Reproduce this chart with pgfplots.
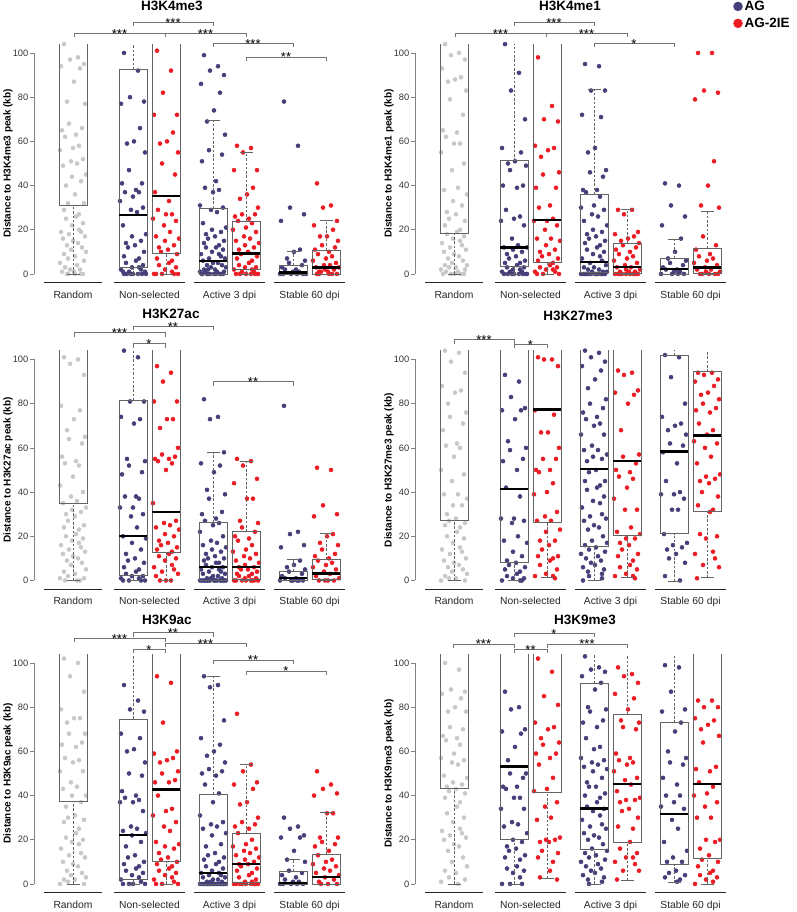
\documentclass[border=0pt]{standalone}
\usepackage{fontspec}
\setmainfont{Liberation Sans}
\usepackage{pgfplots}
\pgfplotsset{compat=1.18}
\usepgfplotslibrary{statistics}

\definecolor{agc}{RGB}{68,63,120}
\definecolor{iec}{RGB}{236,28,36}
\definecolor{rnd}{RGB}{200,200,200}
\definecolor{axc}{RGB}{130,130,130}
\definecolor{bxc}{RGB}{100,100,100}
\definecolor{brc}{RGB}{115,115,115}

\newcommand{\fs}[1]{\fontsize{#1}{#1}\selectfont}

\pgfplotsset{
  panel/.style={
    scale only axis, width=314pt, height=238.68pt, anchor=south west,
    xmin=34, xmax=348, ymin=-4, ymax=104,
    clip mode=individual,
    axis x line=none, axis y line*=left,
    y axis line style={-, draw=axc, line width=0.7pt, shorten <=8.84pt, shorten >=8.84pt},
    ytick={0,20,40,60,80,100},
    tick align=outside, major tick length=4pt,
    ytick style={draw=axc, line width=0.7pt},
    yticklabel style={font=\fs{9.3}, text=black!80, inner sep=1.5pt},
    /pgf/number format/assume math mode=true,
    ylabel style={at={(axis description cs:-0.083,0.5)}, anchor=center, font=\bfseries\fs{10}},
  },
  dotlegend/.style={only marks, mark=*, mark size=4.5pt, mark options={draw=none},
    legend image code/.code={\draw[mark repeat=2,mark phase=2,##1] plot coordinates {(0cm,0cm)(0.2cm,0cm)(0.4cm,0cm)};}},
  rbox/.style={draw=bxc, line width=0.75pt, solid,
    boxplot/every median/.style={black, line width=2.3pt}},
  boxplot/draw/lower whisker/.code={%
    \draw[dash pattern=on 2.5pt off 1.8pt]
      (boxplot box cs:\pgfplotsboxplotvalue{lower whisker},0.5) --
      (boxplot box cs:\pgfplotsboxplotvalue{lower quartile},0.5);
    \draw (boxplot whisker cs:\pgfplotsboxplotvalue{lower whisker},0) --
      (boxplot whisker cs:\pgfplotsboxplotvalue{lower whisker},1);
  },
  boxplot/draw/upper whisker/.code={%
    \draw[dash pattern=on 2.5pt off 1.8pt]
      (boxplot box cs:\pgfplotsboxplotvalue{upper quartile},0.5) --
      (boxplot box cs:\pgfplotsboxplotvalue{upper whisker},0.5);
    \draw (boxplot whisker cs:\pgfplotsboxplotvalue{upper whisker},0) --
      (boxplot whisker cs:\pgfplotsboxplotvalue{upper whisker},1);
  },
}
\tikzset{
  grp/.style={black!85, line width=1.3pt},
  cat/.style={anchor=base, yshift=-15.5pt, font=\fs{10.3}, text=black!85, inner sep=0pt},
  brk/.style={draw=brc, line width=0.7pt},
  star/.style={anchor=base, yshift=-5pt, font=\fs{13}, inner sep=0pt},
  ttl/.style={anchor=base, font=\bfseries\fs{13.5}, inner sep=0pt},
}

% box: position, lower whisker, lower quartile, median, upper quartile, upper whisker
\newcommand{\bx}[6]{\addplot[rbox, boxplot prepared={draw direction=y, draw position=#1,
  box extend=28, whisker extend=13,
  lower whisker=#2, lower quartile=#3, median=#4, upper quartile=#5, upper whisker=#6}] coordinates {};}
\newcommand{\pts}[2]{\addplot[only marks, mark=*, mark size=2.05pt, color=#1, mark options={draw=none}] coordinates {#2};}
\newcommand{\brk}[5]{%
  \draw[brk] ([yshift=-4pt]axis cs:#1,#3) -- (axis cs:#1,#3) -- (axis cs:#2,#3) -- ([yshift=-4pt]axis cs:#2,#3);
  \node[star] at (axis cs:#4,#3) {#5};}
\newcommand{\groups}{%
  \draw[grp] (axis cs:44,-4) -- (axis cs:102,-4);
  \draw[grp] (axis cs:114,-4) -- (axis cs:185,-4);
  \draw[grp] (axis cs:194,-4) -- (axis cs:265,-4);
  \draw[grp] (axis cs:274,-4) -- (axis cs:345,-4);
  \node[cat] at (axis cs:73,-4) {Random};
  \node[cat] at (axis cs:149.5,-4) {Non-selected};
  \node[cat] at (axis cs:229.5,-4) {Active 3 dpi};
  \node[cat] at (axis cs:309.5,-4) {Stable 60 dpi};}

\begin{document}
\begin{tikzpicture}
\useasboundingbox (0,0) rectangle (796pt,-912pt);

% ---------------- H3K4me3 ----------------
\begin{axis}[panel, at={(34pt,-282.8pt)}, ylabel={Distance to H3K4me3 peak (kb)}]
\pts{rnd}{(64,104)(78,98)(70,97)(84,95)(61,94)(80,93)(74,87)(67,78)(85,77)(69,68)(82,66)(62,65)(76,63)(65,62)(79,58)(73,57)(60,56)(83,52)(71,51)(77,50)(63,49)(86,45)(72,44)(81,42)(66,40)(75,36)(68,32)(84,32)(64,29)(79,27)(76,26)(66,25)(83,23)(72,22)(79,20)(61,19)(81,19)(69,18)(85,17)(63,16)(73,15)(78,14)(67,13)(82,12)(71,11)(86,10)(64,9)(75,8)(68,7)(84,6)(60,5)(77,4)(65,3)(80,2)(70,2)(74,1)(62,1)(83,0)(67,0)(81,0)(68,0)(75,0)}
\pts{agc}{(124,100)(138,92)(130,80)(144,78)(121,77)(140,66)(134,60)(127,59)(145,55)(129,47)(142,41)(122,41)(136,38)(125,37)(139,37)(133,35)(120,33)(143,30)(131,29)(137,28)(123,22)(146,18)(132,17)(141,15)(126,14)(135,13)(128,12)(144,10)(124,8)(139,7)(136,6)(126,5)(143,4)(132,3)(139,3)(121,2)(141,2)(129,1)(145,1)(123,1)(133,0)(138,0)(127,0)(142,0)(131,0)(146,0)(124,0)}
\pts{iec}{(157,101)(171,92)(163,82)(177,72)(154,72)(173,64)(167,60)(160,59)(178,55)(162,50)(175,45)(155,37)(169,33)(158,29)(172,27)(166,27)(153,25)(176,24)(164,22)(170,19)(156,17)(179,16)(165,15)(174,13)(159,12)(168,11)(161,10)(177,9)(157,7)(172,6)(169,5)(159,4)(176,3)(165,2)(172,1)(154,0)(174,0)(162,0)(178,0)(156,0)}
\pts{agc}{(204,99)(218,94)(210,92)(224,90)(201,86)(220,82)(214,74)(207,69)(225,63)(209,56)(222,54)(202,51)(216,42)(205,39)(219,38)(213,37)(200,31)(223,30)(211,29)(217,28)(203,23)(226,21)(212,20)(221,19)(206,18)(215,17)(208,16)(224,15)(204,14)(219,13)(216,12)(206,12)(223,11)(212,10)(219,9)(201,9)(221,8)(209,7)(225,7)(203,6)(213,5)(218,5)(207,4)(222,4)(211,3)(226,3)(204,2)(215,2)(208,2)(224,1)(200,1)(217,1)(205,1)(220,0)(210,0)(214,0)(202,0)(223,0)(207,0)(221,0)(208,0)(216,0)(202,0)}
\pts{iec}{(237,58)(251,57)(243,55)(257,47)(234,47)(253,39)(247,36)(240,34)(258,30)(242,27)(255,27)(235,26)(249,25)(238,24)(252,23)(246,21)(233,20)(256,19)(244,17)(250,16)(236,15)(259,14)(245,13)(254,12)(239,11)(248,10)(241,9)(257,8)(237,7)(252,6)(249,5)(239,4)(256,3)(245,3)(252,2)(234,2)(254,1)(242,1)(258,0)(236,0)(246,0)(251,0)(240,0)(255,0)}
\pts{agc}{(284,78)(298,58)(290,30)(304,27)(281,24)(300,11)(294,10)(287,7)(305,6)(289,5)(302,4)(282,3)(296,2)(285,2)(299,1)(293,1)(280,0)(303,0)(291,0)(297,0)(283,0)(306,0)}
\pts{iec}{(317,41)(331,31)(323,30)(337,24)(314,22)(333,20)(327,17)(320,17)(338,15)(322,13)(335,12)(315,11)(329,10)(318,9)(332,8)(326,7)(313,6)(336,5)(324,4)(330,4)(316,3)(339,3)(325,2)(334,2)(319,1)(328,1)(321,1)(337,0)(317,0)(332,0)(329,0)(319,0)}
\bx{73}{0}{31}{150}{200}{250}
\bx{133}{0}{3.0}{26.6}{92.6}{150}
\bx{166}{0}{9.4}{35.4}{150}{200}
\bx{213}{0}{0}{6.0}{29.8}{69.3}
\bx{246}{0}{2.1}{9.3}{24.0}{55.2}
\bx{293}{0}{0}{0.6}{3.8}{10.1}
\bx{326}{0}{0}{2.9}{10.8}{24.4}
\groups
\brk{74}{165}{109}{119.5}{***}
\brk{165}{246}{109}{205.5}{***}
\brk{133}{213}{114}{173}{***}
\brk{213}{293}{104.5}{253}{***}
\brk{246}{326}{98.2}{286}{**}
\node[ttl] at (axis cs:172,119.2) {H3K4me3};
\end{axis}

% ---------------- H3K4me1 ----------------
\begin{axis}[panel, at={(415pt,-282.8pt)}, ylabel={Distance to H3K4me1 peak (kb)},
  legend style={at={(axis description cs:1.0137,1.19)}, anchor=north west, draw=none, fill=none,
    font=\bfseries\fs{13.5}, inner sep=0pt, row sep=2pt, legend cell align=left}]
\addlegendimage{dotlegend, color=agc}
\addlegendimage{dotlegend, color=iec}
\pts{rnd}{(64,104)(78,100)(70,99)(84,97)(61,93)(80,89)(74,88)(67,87)(85,83)(69,79)(82,72)(62,65)(76,64)(65,62)(79,59)(73,59)(60,55)(83,50)(71,47)(77,39)(63,38)(86,36)(72,33)(81,31)(66,28)(75,27)(68,25)(84,24)(64,22)(79,20)(76,19)(66,18)(83,17)(72,16)(79,15)(61,14)(81,13)(69,12)(85,11)(63,10)(73,9)(78,8)(67,7)(82,6)(71,5)(86,4)(64,4)(75,3)(68,3)(84,2)(60,2)(77,1)(65,1)(80,0)(70,0)(74,0)(62,0)(83,0)}
\pts{agc}{(124,104)(138,91)(130,83)(144,70)(121,57)(140,55)(134,51)(127,50)(145,49)(129,47)(142,40)(122,40)(136,39)(125,29)(139,26)(133,25)(120,24)(143,22)(131,16)(137,13)(123,12)(146,12)(132,11)(141,10)(126,9)(135,8)(128,7)(144,6)(124,5)(139,5)(136,4)(126,3)(143,3)(132,2)(139,2)(121,1)(141,1)(129,1)(145,0)(123,0)(133,0)(138,0)(127,0)(142,0)(131,0)(146,0)}
\pts{iec}{(157,98)(171,76)(163,70)(177,69)(154,58)(173,57)(167,56)(160,53)(178,46)(162,45)(175,39)(155,39)(169,31)(158,30)(172,25)(166,24)(153,24)(176,22)(164,20)(170,16)(156,16)(179,15)(165,13)(174,11)(159,10)(168,9)(161,8)(177,7)(157,6)(172,5)(169,4)(159,3)(176,3)(165,2)(172,2)(154,1)(174,1)(162,0)(178,0)(156,0)}
\pts{agc}{(204,95)(218,94)(210,83)(224,83)(201,72)(220,71)(214,57)(207,55)(225,47)(209,46)(222,44)(202,38)(216,38)(205,37)(219,35)(213,31)(200,30)(223,29)(211,27)(217,26)(203,24)(226,22)(212,20)(221,19)(206,18)(215,17)(208,16)(224,15)(204,14)(219,13)(216,12)(206,11)(223,10)(212,9)(219,8)(201,7)(221,6)(209,5)(225,4)(203,3)(213,3)(218,2)(207,2)(222,1)(211,1)(226,1)(204,0)(215,0)(208,0)(224,0)(200,0)(217,0)(205,0)(220,0)(210,0)(214,0)(202,0)(223,0)(207,0)(221,0)}
\pts{iec}{(237,29)(251,29)(243,27)(257,19)(234,18)(253,17)(247,16)(240,15)(258,14)(242,13)(255,12)(235,11)(249,10)(238,9)(252,8)(246,7)(233,6)(256,5)(244,4)(250,3)(236,3)(259,2)(245,2)(254,1)(239,1)(248,1)(241,0)(257,0)(237,0)(252,0)(249,0)(239,0)(256,0)(245,0)(234,0)(254,0)}
\pts{agc}{(284,41)(298,40)(290,31)(304,26)(281,22)(300,16)(294,10)(287,7)(305,6)(289,5)(302,4)(282,3)(296,2)(285,2)(299,1)(293,1)(280,0)(303,0)(291,0)(297,0)}
\pts{iec}{(317,100)(331,100)(323,83)(337,82)(314,79)(333,51)(327,40)(320,31)(338,30)(322,17)(335,13)(315,11)(329,9)(318,8)(332,7)(326,6)(313,5)(336,4)(324,3)(330,2)(316,2)(339,1)(325,1)(334,0)(319,0)(328,0)(321,0)(337,0)}
\bx{73}{0}{18.4}{150}{200}{250}
\bx{133}{0}{3.6}{12.0}{51.2}{150}
\bx{166}{0}{5.1}{24.4}{150}{200}
\bx{213}{0}{0.8}{5.4}{36.0}{83.4}
\bx{246}{0}{0.3}{3.3}{13.9}{29.4}
\bx{293}{0}{0}{2.3}{7.1}{15.7}
\bx{326}{0}{0.3}{2.9}{11.6}{28.2}
\groups
\brk{74}{165}{109}{119.5}{***}
\brk{165}{246}{109}{205.5}{***}
\brk{133}{213}{114}{173}{***}
\brk{213}{293}{104.5}{253}{*}
\node[ttl] at (axis cs:189,119.2) {H3K4me1};
\legend{AG,AG-2IE}
\end{axis}

% ---------------- H3K27ac ----------------
\begin{axis}[panel, at={(34pt,-589.3pt)}, ylabel={Distance to H3K27ac peak (kb)}]
\pts{rnd}{(64,101)(78,100)(70,98)(84,93)(61,79)(80,77)(74,73)(67,68)(85,65)(69,64)(82,62)(62,56)(76,54)(65,53)(79,52)(73,47)(60,43)(83,40)(71,38)(77,36)(63,35)(86,33)(72,32)(81,31)(66,30)(75,29)(68,27)(84,25)(64,24)(79,23)(76,21)(66,20)(83,19)(72,18)(79,17)(61,16)(81,15)(69,14)(85,13)(63,12)(73,11)(78,10)(67,9)(82,8)(71,7)(86,5)(64,4)(75,3)(68,2)(84,1)(60,1)(77,0)(65,0)(80,0)}
\pts{agc}{(124,104)(138,101)(130,81)(144,81)(121,74)(140,73)(134,71)(127,55)(145,54)(129,52)(142,49)(122,48)(136,38)(125,38)(139,37)(133,33)(120,33)(143,30)(131,29)(137,24)(123,20)(146,19)(132,17)(141,14)(126,12)(135,10)(128,9)(144,8)(124,6)(139,5)(136,4)(126,3)(143,2)(132,2)(139,1)(121,1)(141,0)(129,0)(145,0)(123,0)}
\pts{iec}{(157,97)(171,94)(163,90)(177,81)(154,81)(173,73)(167,73)(160,69)(178,60)(162,57)(175,56)(155,55)(169,55)(158,54)(172,53)(166,50)(153,35)(176,27)(164,26)(170,25)(156,24)(179,23)(165,21)(174,20)(159,18)(168,17)(161,16)(177,15)(157,14)(172,13)(169,12)(159,11)(176,10)(165,9)(172,7)(154,6)(174,5)(162,4)(178,3)(156,2)(166,0)(171,0)(160,0)}
\pts{agc}{(204,82)(218,74)(210,73)(224,58)(201,53)(220,52)(214,49)(207,41)(225,39)(209,37)(222,31)(202,30)(216,28)(205,27)(219,26)(213,25)(200,22)(223,20)(211,18)(217,17)(203,16)(226,15)(212,14)(221,13)(206,12)(215,11)(208,10)(224,10)(204,9)(219,8)(216,8)(206,7)(223,6)(212,6)(219,5)(201,5)(221,4)(209,4)(225,3)(203,3)(213,2)(218,2)(207,1)(222,1)(211,1)(226,0)(204,0)(215,0)(208,0)(224,0)(200,0)(217,0)(205,0)(220,0)(210,0)(214,0)(202,0)(223,0)(207,0)(221,0)}
\pts{iec}{(237,55)(251,54)(243,52)(257,46)(234,44)(253,37)(247,37)(240,27)(258,26)(242,24)(255,22)(235,20)(249,19)(238,18)(252,16)(246,14)(233,13)(256,12)(244,11)(250,10)(236,9)(259,8)(245,7)(254,6)(239,6)(248,5)(241,5)(257,4)(237,3)(252,3)(249,2)(239,2)(256,1)(245,1)(252,0)(234,0)(254,0)(242,0)(258,0)(236,0)(246,0)(251,0)}
\pts{agc}{(284,79)(298,22)(290,21)(304,16)(281,15)(300,9)(294,7)(287,6)(305,5)(289,4)(302,3)(282,2)(296,1)(285,1)(299,0)(293,0)(280,0)(303,0)(291,0)(297,0)}
\pts{iec}{(317,51)(331,50)(323,34)(337,30)(314,29)(333,21)(327,20)(320,17)(338,16)(322,14)(335,12)(315,11)(329,10)(318,9)(332,8)(326,7)(313,6)(336,5)(324,4)(330,3)(316,2)(339,1)(325,0)(334,0)(319,0)(328,0)}
\bx{73}{0}{34.7}{150}{200}{250}
\bx{133}{0}{2.3}{20.0}{81.4}{150}
\bx{166}{0}{12.5}{31.1}{150}{200}
\bx{213}{0}{0}{6.0}{26.3}{58.0}
\bx{246}{0}{0.5}{6.0}{22.0}{53.8}
\bx{293}{0}{0}{1.1}{4.2}{9.5}
\bx{326}{0}{0.5}{3.2}{9.5}{21.2}
\groups
\brk{74}{165}{112.2}{119.5}{***}
\brk{133}{213}{115}{173}{**}
\brk{133}{165}{107.2}{149}{*}
\brk{213}{293}{90}{253}{**}
\node[ttl] at (axis cs:171,118.6) {H3K27ac};
\end{axis}

% ---------------- H3K27me3 ----------------
\begin{axis}[panel, at={(415pt,-589.3pt)}, ylabel={Distance to H3K27me3 peak (kb)}]
\pts{rnd}{(64,104)(78,103)(70,99)(84,94)(61,88)(80,86)(74,85)(67,80)(85,76)(69,74)(82,71)(62,68)(76,62)(65,61)(79,60)(73,56)(60,50)(83,48)(71,45)(77,39)(63,39)(86,37)(72,34)(81,34)(66,30)(75,28)(68,27)(84,26)(64,25)(79,24)(76,22)(66,20)(83,19)(72,17)(79,15)(61,14)(81,13)(69,12)(85,10)(63,9)(73,8)(78,7)(67,6)(82,5)(71,4)(86,3)(64,2)(75,1)(68,1)(84,0)(60,0)}
\pts{agc}{(124,93)(138,90)(130,83)(144,78)(121,77)(140,77)(134,73)(127,63)(145,60)(129,59)(142,55)(122,54)(136,50)(125,42)(139,38)(133,28)(120,28)(143,27)(131,26)(137,20)(123,18)(146,17)(132,13)(141,11)(126,9)(135,8)(128,7)(144,6)(124,5)(139,4)(136,3)(126,2)(143,1)(132,1)(139,0)(121,0)(141,0)}
\pts{iec}{(157,101)(171,100)(163,100)(177,97)(154,77)(173,75)(167,67)(160,67)(178,60)(162,55)(175,55)(155,50)(169,50)(158,49)(172,44)(166,40)(153,39)(176,31)(164,29)(170,27)(156,27)(179,23)(165,22)(174,18)(159,18)(168,16)(161,14)(177,11)(157,11)(172,10)(169,9)(159,7)(176,5)(165,3)(172,2)(154,2)(174,1)}
\pts{agc}{(204,104)(218,103)(210,101)(224,99)(201,97)(220,95)(214,91)(207,87)(225,82)(209,80)(222,78)(202,76)(216,74)(205,73)(219,71)(213,70)(200,66)(223,66)(211,61)(217,59)(203,59)(226,57)(212,56)(221,55)(206,54)(215,50)(208,49)(224,45)(204,45)(219,43)(216,42)(206,41)(223,38)(212,36)(219,35)(201,33)(221,30)(209,29)(225,28)(203,27)(213,25)(218,24)(207,23)(222,20)(211,18)(226,17)(204,16)(215,15)(208,14)(224,13)(200,12)(217,11)(205,10)(220,9)(210,8)(214,7)(202,6)(223,5)(207,4)(221,3)(208,2)(221,1)(202,0)}
\pts{iec}{(237,95)(251,94)(243,93)(257,86)(234,85)(253,84)(247,80)(240,68)(258,57)(242,56)(255,53)(235,50)(249,49)(238,47)(252,46)(246,42)(233,37)(256,32)(244,32)(250,24)(236,22)(259,21)(245,19)(254,19)(239,17)(248,16)(241,14)(257,12)(237,11)(252,9)(249,7)(239,6)(256,5)(245,3)(252,2)(234,2)(254,1)}
\pts{agc}{(284,102)(298,101)(290,92)(304,80)(281,74)(300,71)(294,70)(287,68)(305,66)(289,62)(302,61)(282,58)(296,53)(285,45)(299,40)(293,39)(280,39)(303,37)(291,32)(297,32)(283,21)(306,17)(292,16)(301,15)(286,14)(295,12)(288,10)(304,8)(284,2)(299,0)}
\pts{iec}{(317,94)(331,94)(323,93)(337,91)(314,90)(333,88)(327,85)(320,84)(338,82)(322,80)(335,78)(315,77)(329,76)(318,71)(332,68)(326,66)(313,63)(336,62)(324,60)(330,56)(316,53)(339,48)(325,47)(334,46)(319,45)(328,44)(321,40)(337,38)(317,34)(332,32)(329,31)(319,21)(336,20)(325,19)(332,13)(314,12)(334,10)(322,7)(338,6)(316,1)}
\bx{73}{0}{27.0}{150}{200}{250}
\bx{133}{0}{8.3}{41.4}{150}{200}
\bx{166}{1.5}{26.2}{77.3}{150}{200}
\bx{213}{0}{15.6}{50.5}{150}{200}
\bx{246}{1.5}{20.2}{54.2}{150}{200}
\bx{293}{-0.3}{21.2}{58.3}{102.0}{150}
\bx{326}{1.2}{31.4}{65.6}{94.4}{150}
\groups
\brk{73}{133}{109}{103}{***}
\brk{133}{166}{106.8}{149.5}{*}
\node[ttl] at (axis cs:197,117.7) {H3K27me3};
\end{axis}

% ---------------- H3K9ac ----------------
\begin{axis}[panel, at={(34pt,-892.8pt)}, ylabel={Distance to H3K9ac peak (kb)}]
\pts{rnd}{(64,102)(78,100)(70,94)(84,87)(61,79)(80,75)(74,75)(67,73)(85,68)(69,68)(82,64)(62,63)(76,62)(65,57)(79,56)(73,55)(60,51)(83,51)(71,46)(77,44)(63,43)(86,40)(72,40)(81,37)(66,35)(75,31)(68,30)(84,29)(64,28)(79,25)(76,23)(66,21)(83,20)(72,19)(79,18)(61,16)(81,14)(69,13)(85,12)(63,10)(73,9)(78,8)(67,6)(82,5)(71,4)(86,3)(64,2)(75,2)(68,1)(84,0)(60,0)}
\pts{agc}{(124,90)(138,83)(130,79)(144,78)(121,68)(140,66)(134,61)(127,60)(145,55)(129,50)(142,49)(122,42)(136,40)(125,39)(139,38)(133,37)(120,37)(143,33)(131,26)(137,25)(123,24)(146,23)(132,22)(141,19)(126,17)(135,13)(128,12)(144,10)(124,9)(139,8)(136,7)(126,6)(143,5)(132,4)(139,3)(121,2)(141,1)(129,0)(145,0)(123,0)(133,0)}
\pts{iec}{(157,94)(171,91)(163,73)(177,60)(154,59)(173,57)(167,56)(160,55)(178,51)(162,50)(175,47)(155,46)(169,46)(158,40)(172,34)(166,33)(153,31)(176,28)(164,26)(170,24)(156,19)(179,18)(165,17)(174,16)(159,14)(168,12)(161,11)(177,10)(157,9)(172,8)(169,7)(159,6)(176,5)(165,4)(172,3)(154,2)(174,1)(162,0)(178,0)(156,0)}
\pts{agc}{(204,94)(218,90)(210,89)(224,74)(201,66)(220,63)(214,60)(207,58)(225,55)(209,52)(222,51)(202,50)(216,49)(205,45)(219,41)(213,37)(200,31)(223,28)(211,27)(217,26)(203,25)(226,23)(212,22)(221,18)(206,17)(215,14)(208,13)(224,12)(204,11)(219,10)(216,9)(206,8)(223,7)(212,6)(219,5)(201,5)(221,4)(209,4)(225,3)(203,3)(213,2)(218,2)(207,1)(222,1)(211,1)(226,0)(204,0)(215,0)(208,0)(224,0)(200,0)(217,0)(205,0)(220,0)(210,0)(214,0)(202,0)(223,0)(207,0)(221,0)(212,0)(218,0)}
\pts{iec}{(237,77)(251,54)(243,51)(257,46)(234,45)(253,43)(247,37)(240,36)(258,30)(242,28)(255,27)(235,26)(249,25)(238,23)(252,20)(246,18)(233,17)(256,16)(244,15)(250,14)(236,13)(259,12)(245,11)(254,10)(239,9)(248,9)(241,8)(257,7)(237,6)(252,5)(249,4)(239,3)(256,2)(245,1)(252,1)(234,0)(254,0)(242,0)(258,0)(236,0)(246,0)(251,0)(240,0)(255,0)}
\pts{agc}{(284,30)(298,26)(290,25)(304,22)(281,21)(300,21)(294,15)(287,11)(305,10)(289,6)(302,5)(282,4)(296,3)(285,2)(299,1)(293,1)(280,0)(303,0)(291,0)(297,0)(283,0)}
\pts{iec}{(317,51)(331,45)(323,43)(337,41)(314,40)(333,32)(327,32)(320,21)(338,21)(322,19)(335,18)(315,17)(329,15)(318,13)(332,11)(326,10)(313,9)(336,8)(324,7)(330,6)(316,5)(339,4)(325,3)(334,2)(319,1)(328,0)(321,0)(337,0)}
\bx{73}{0}{37.4}{150}{200}{250}
\bx{133}{0}{2.0}{22.3}{74.7}{150}
\bx{166}{0}{10.1}{42.7}{150}{200}
\bx{213}{0}{0}{5.0}{40.7}{94.0}
\bx{246}{0}{0.9}{9.0}{23.1}{54.3}
\bx{293}{0}{0}{0.5}{5.7}{11.0}
\bx{326}{0}{0}{3.0}{13.6}{32.4}
\groups
\brk{74}{165}{111.2}{119.5}{***}
\brk{133}{213}{113.7}{173}{**}
\brk{133}{165}{106.3}{149}{*}
\brk{165}{246}{108.9}{205.5}{***}
\brk{213}{293}{101.4}{253}{**}
\brk{246}{326}{96.4}{286}{*}
\node[ttl] at (axis cs:167,117.4) {H3K9ac};
\end{axis}

% ---------------- H3K9me3 ----------------
\begin{axis}[panel, at={(415pt,-892.8pt)}, ylabel={Distance to H3K9me3 peak (kb)}]
\pts{rnd}{(64,100)(78,97)(70,88)(84,87)(61,86)(80,84)(74,80)(67,78)(85,78)(69,71)(82,70)(62,67)(76,66)(65,65)(79,63)(73,59)(60,57)(83,56)(71,55)(77,54)(63,49)(86,48)(72,46)(81,45)(66,44)(75,43)(68,42)(84,41)(64,39)(79,37)(76,35)(66,32)(83,30)(72,28)(79,25)(61,24)(81,23)(69,22)(85,21)(63,20)(73,18)(78,17)(67,15)(82,12)(71,10)(86,8)(64,6)(75,5)(68,3)(84,2)(60,1)(77,0)}
\pts{agc}{(124,87)(138,80)(130,79)(144,70)(121,69)(140,68)(134,62)(127,56)(145,50)(129,50)(142,48)(122,44)(136,44)(125,43)(139,39)(133,39)(120,34)(143,34)(131,28)(137,27)(123,26)(146,23)(132,20)(141,19)(126,17)(135,16)(128,15)(144,13)(124,12)(139,11)(136,8)(126,7)(143,6)(132,5)(139,3)(121,0)(141,0)(129,0)}
\pts{iec}{(157,102)(171,96)(163,85)(177,81)(154,73)(173,71)(167,70)(160,66)(178,64)(162,63)(175,59)(155,59)(169,57)(158,54)(172,48)(166,43)(153,42)(176,37)(164,35)(170,30)(156,29)(179,21)(165,20)(174,20)(159,19)(168,19)(161,15)(177,14)(157,12)(172,10)(169,6)(159,3)(176,2)}
\pts{agc}{(204,103)(218,98)(210,97)(224,96)(201,94)(220,91)(214,88)(207,80)(225,79)(209,78)(222,74)(202,73)(216,71)(205,66)(219,62)(213,61)(200,57)(223,56)(211,55)(217,54)(203,53)(226,52)(212,51)(221,48)(206,46)(215,44)(208,44)(224,41)(204,40)(219,39)(216,37)(206,35)(223,34)(212,33)(219,31)(201,29)(221,27)(209,26)(225,25)(203,23)(213,22)(218,21)(207,20)(222,18)(211,16)(226,15)(204,14)(215,13)(208,12)(224,11)(200,10)(217,9)(205,8)(220,7)(210,6)(214,5)(202,4)(223,3)(207,2)(221,1)(208,0)}
\pts{iec}{(237,98)(251,95)(243,94)(257,91)(234,86)(253,84)(247,79)(240,74)(258,73)(242,71)(255,70)(235,59)(249,57)(238,56)(252,55)(246,54)(233,51)(256,48)(244,47)(250,45)(236,42)(259,39)(245,38)(254,38)(239,37)(248,34)(241,33)(257,30)(237,26)(252,25)(249,19)(239,16)(256,14)(245,12)(252,12)(234,10)(254,9)(242,6)(258,6)(236,2)}
\pts{agc}{(284,99)(298,98)(290,87)(304,79)(281,78)(300,73)(294,69)(287,60)(305,57)(289,55)(302,54)(282,48)(296,45)(285,40)(299,40)(293,37)(280,35)(303,34)(291,29)(297,25)(283,19)(306,15)(292,12)(301,10)(286,10)(295,6)(288,5)(304,4)(284,3)(299,2)(296,1)}
\pts{iec}{(317,83)(331,83)(323,80)(337,80)(314,75)(333,74)(327,72)(320,70)(338,67)(322,64)(335,53)(315,52)(329,51)(318,46)(332,44)(326,41)(313,40)(336,37)(324,35)(330,30)(316,30)(339,20)(325,20)(334,19)(319,16)(328,13)(321,11)(337,10)(317,8)(332,6)(329,5)(319,4)(336,3)(325,2)(332,1)(314,0)}
\bx{73}{0}{43.4}{150}{200}{250}
\bx{133}{0}{20.4}{53.1}{150}{200}
\bx{166}{2.7}{41.6}{150}{200}{250}
\bx{213}{0}{15.5}{34.1}{90.6}{150}
\bx{246}{1.5}{19.0}{45.2}{76.6}{150}
\bx{293}{0.5}{8.7}{31.7}{72.9}{150}
\bx{326}{0}{11.8}{45.2}{150}{200}
\groups
\brk{72}{133}{108.6}{102.5}{***}
\brk{133}{213}{113.4}{173}{*}
\brk{133}{166}{106.2}{149.5}{**}
\brk{166}{246}{108.6}{206}{***}
\node[ttl] at (axis cs:204,117.4) {H3K9me3};
\end{axis}
\end{tikzpicture}
\end{document}
